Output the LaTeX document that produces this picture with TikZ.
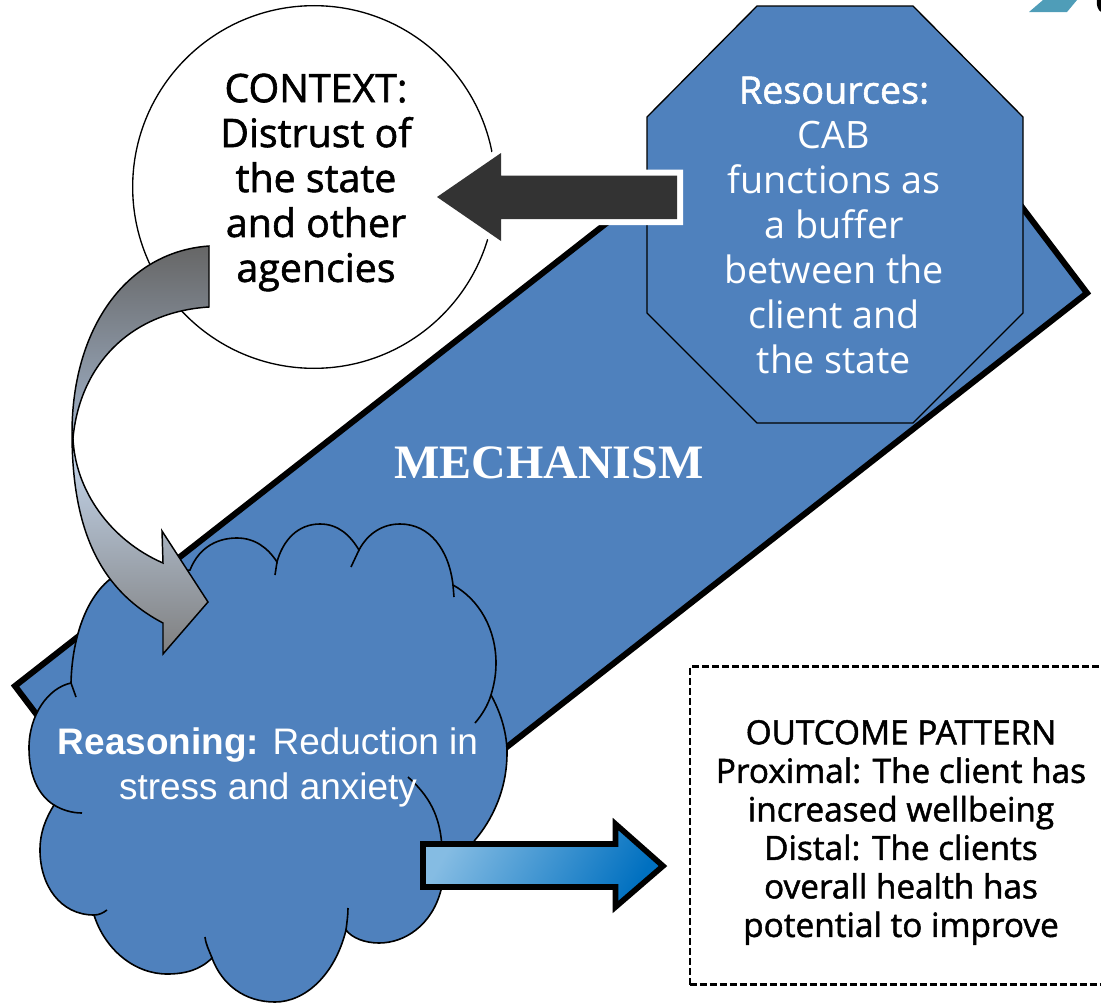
\documentclass[tikz,border=0pt]{standalone}
\usepackage{fontspec}
\setmainfont{Open Sans}
\newfontfamily\heavyfont[FakeBold=1.5]{Open Sans}
\newfontfamily\arialfont{Liberation Sans}
\newfontfamily\timesfont{Liberation Serif}
\definecolor{mechblue}{HTML}{4F81BD}
\definecolor{darkarrow}{HTML}{333333}
\definecolor{logoteal}{HTML}{4F9DB8}
\definecolor{arrowlight}{HTML}{85BCE3}
\definecolor{arrowdark}{HTML}{0070C0}
\definecolor{curvetop}{HTML}{666666}
\definecolor{curvemidup}{HTML}{9FB0C6}
\definecolor{curvemiddown}{HTML}{C6D8EF}
\definecolor{curvebottom}{HTML}{7F7F7F}
\pgfdeclareverticalshading{curvegrey}{100bp}{
	color(0bp)=(curvebottom);
	color(25bp)=(curvebottom);
	color(51bp)=(curvemiddown);
	color(52bp)=(curvemidup);
	color(75bp)=(curvetop);
	color(100bp)=(curvetop)
}
\tikzset{
	every node/.style={align=center},
	mech-shape/.style={fill=mechblue,draw=black,line width=4.5pt,miter limit=10},
	octagon-shape/.style={fill=mechblue,draw=black,line width=1pt},
	cloud-shape/.style={fill=mechblue,draw=black,line width=1.2pt},
	cloud-stub/.style={draw=black,line width=1.2pt},
	context-node/.style={shape=circle,draw=black,fill=white,line width=1pt,minimum size=272pt,inner sep=0pt},
	black-text/.style={text=black,font=\heavyfont\fontsize{29.5}{33.7}\selectfont},
	white-text/.style={text=white,font=\fontsize{28.3}{33.7}\selectfont},
	outcome-node/.style={shape=rectangle,draw=black,line width=1.6pt,dash pattern=on 5pt off 2.5pt,minimum width=319pt,minimum height=238.5pt,inner sep=0pt},
	outcome-text/.style={text=black,font=\heavyfont\fontsize{25}{28.9}\selectfont},
}
\begin{document}
\begin{tikzpicture}[x=0.75pt,y=-0.75pt]
	\useasboundingbox (0,0) rectangle (1101,1003);
	\begin{scope}
		\clip (0,0) rectangle (1101,1003);

		\draw[mech-shape] (15,686) -- (875,13) -- (1087,293) -- (227,966) -- cycle;

		\node[context-node] (context) at (314,187) {};
		\node[black-text] (contexttext) at (316,182.5) {CONTEXT:\\Distrust of\\the state\\and other\\agencies};

		\draw[octagon-shape] (757,6) -- (913,6) -- (1023,117) -- (1023,313) -- (913,423) -- (757,423) -- (647,313) -- (647,117) -- cycle;
		\node[white-text] (resources) at (834,225) {{\heavyfont Resources:}\\CAB\\functions as\\a buffer\\between the\\client and\\the state};

		\node[text=white,font=\timesfont\bfseries\fontsize{36}{40}\selectfont] (mechanism) at (549,463) {MECHANISM};

		\path[fill=darkarrow,preaction={draw=white,line width=9pt}] (677,175.5) -- (501,175.5) -- (501,153) -- (437,197) -- (501,241) -- (501,219) -- (677,219) -- cycle;

		\path[cloud-shape] (190,570) .. controls (200,545) and (220,538) .. (237,538) .. controls (255,538) and (268,548) .. (277,562)
			.. controls (283,540) and (298,524) .. (320,524) .. controls (338,524) and (350,535) .. (359,550)
			.. controls (368,533) and (383,524) .. (400,524) .. controls (430,524) and (449,550) .. (453,585)
			.. controls (480,600) and (496,630) .. (496,663) .. controls (496,675) and (494,685) .. (491,695)
			.. controls (502,715) and (507,735) .. (507,753) .. controls (507,790) and (492,820) .. (475,840)
			-- (441,890) .. controls (432,925) and (405,943) .. (379,943) .. controls (365,943) and (352,938) .. (346,930)
			.. controls (335,975) and (305,1002) .. (275,1002) .. controls (245,1002) and (222,985) .. (212,958)
			.. controls (200,970) and (185,974) .. (167,974) .. controls (135,974) and (105,950) .. (94,915)
			.. controls (60,915) and (40,885) .. (40,850) .. controls (40,832) and (46,818) .. (54,805)
			.. controls (38,795) and (29,775) .. (29,748) .. controls (29,715) and (48,688) .. (71,683)
			.. controls (72,640) and (85,600) .. (109,580) -- cycle;
		\draw[cloud-stub] (277,562) -- (275,575);
		\draw[cloud-stub] (359,550) -- (351,567);
		\draw[cloud-stub] (453,585) -- (454,597);
		\draw[cloud-stub] (491,695) .. controls (488,705) and (482,715) .. (475,723);
		\draw[cloud-stub] (408,777) .. controls (428,795) and (441,815) .. (442,850) -- (441,890);
		\draw[cloud-stub] (346,930) .. controls (347,922) and (348,915) .. (348,908);
		\draw[cloud-stub] (212,958) .. controls (209,950) and (206,945) .. (205,937);
		\draw[cloud-stub] (94,915) .. controls (99,915) and (103,913) .. (107,910);
		\draw[cloud-stub] (54,805) .. controls (62,810) and (72,813) .. (82,813);
		\draw[cloud-stub] (71,683) -- (76,697);

		\node[text=white,font=\arialfont\fontsize{27.7}{33.7}\selectfont] (reasoning) at (268,767) {\textbf{Reasoning:} Reduction in\\stress and anxiety};

		\shade[shading=curvegrey,draw=black,line width=1.1pt] (209,246) .. controls (125,252) and (72,330) .. (72,433)
			.. controls (72,530) and (100,590) .. (163,623) -- (163,654) -- (208,602) -- (162,531) -- (163,563)
			.. controls (110,540) and (75,490) .. (73,438) .. controls (80,365) and (130,312) .. (209,307) -- cycle;

		\shade[left color=arrowlight,right color=arrowdark,shading angle=60,draw=black,line width=4.2pt] (423,844) -- (615.5,844) -- (615.5,824) -- (663,866) -- (615.5,907) -- (615.5,887) -- (423,887) -- cycle;

		\node[outcome-node] (outcome) at (902.5,825.5) {};
		\node[outcome-text] (outcometext) at (901,832.5) {OUTCOME PATTERN\\Proximal: The client has\\increased wellbeing\\Distal: The clients\\overall health has\\potential to improve};

		\fill[logoteal] (1029,12) -- (1043,0) -- (1077,0) -- (1067,12) -- cycle;
		\fill[black] (1101,12) .. controls (1098,10) and (1096,5) .. (1097,0) -- (1101,0) -- cycle;
	\end{scope}
\end{tikzpicture}
\end{document}
